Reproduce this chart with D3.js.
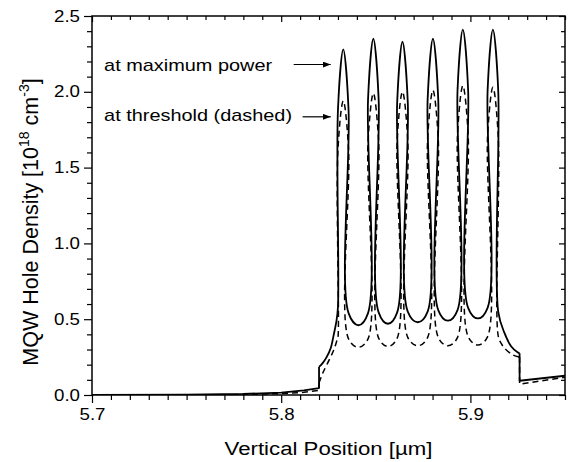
<!DOCTYPE html>
<html>
<head>
<meta charset="utf-8">
<script src="https://cdn.jsdelivr.net/npm/d3@7"></script>
<style>
  body { margin: 0; background: #fff; }
  text { font-family: "Liberation Sans", Arial, sans-serif; fill: #000; }
</style>
</head>
<body>
<div id="chart"></div>
<script>
// ---- data (positions in µm, densities in 1e18 cm^-3) ----
const xDomain = [5.7, 5.95];
const yDomain = [0, 2.5];
const xMajor = [5.7, 5.8, 5.9];
const yMajor = [0, 0.5, 1.0, 1.5, 2.0, 2.5];

// quantum wells: walls, peak position
const wellLeft    = [5.8300, 5.8459, 5.8613, 5.8774, 5.8932, 5.9091];
const wellRight   = [5.8356, 5.8515, 5.8669, 5.8830, 5.8988, 5.9147];
const wellPeakPos = [5.8328, 5.8487, 5.8641, 5.8802, 5.8960, 5.9119];

// at maximum power (solid)
const peakMaxPower        = [2.28, 2.35, 2.33, 2.35, 2.41, 2.41];
const capBaseMaxPower     = [1.88, 1.95, 1.93, 1.95, 2.01, 2.01];
const barrierEdgeMaxPower = [0.54, 0.545, 0.55, 0.56, 0.575];
const barrierMinMaxPower  = [0.46, 0.47, 0.48, 0.49, 0.505];

// at threshold (dashed)
const peakThreshold        = [1.94, 1.99, 2.00, 2.01, 2.04, 2.03];
const capBaseThreshold     = [1.62, 1.67, 1.68, 1.69, 1.72, 1.71];
const barrierEdgeThreshold = [0.37, 0.375, 0.38, 0.38, 0.385];
const barrierMinThreshold  = [0.315, 0.32, 0.325, 0.325, 0.33];

// barrier centres between neighbouring wells
const barrierPos = [5.8408, 5.8564, 5.8722, 5.8881, 5.9040];

// cladding / outer barriers
const leftTailMaxPower  = [[5.70, 0.0], [5.75, 0.002], [5.78, 0.007], [5.80, 0.016], [5.812, 0.030], [5.8200, 0.046], [5.8200, 0.185]];
const leftCladMaxPower  = [[5.8200, 0.185], [5.8219, 0.21], [5.8240, 0.25], [5.8262, 0.31], [5.8278, 0.40], [5.8291, 0.48], [5.8300, 0.58]];
const rightCladMaxPower = [[5.9147, 0.55], [5.9180, 0.41], [5.9216, 0.32], [5.9251, 0.28], [5.9260, 0.275]];
const rightTailMaxPower = [[5.9260, 0.275], [5.9260, 0.094], [5.95, 0.127]];

const leftTailThreshold  = [[5.70, 0.0], [5.75, 0.0], [5.78, 0.003], [5.80, 0.009], [5.812, 0.018], [5.8200, 0.030], [5.8200, 0.08]];
const leftCladThreshold  = [[5.8200, 0.08], [5.8218, 0.14], [5.8253, 0.23], [5.8279, 0.30], [5.8297, 0.37], [5.8300, 0.38]];
const rightCladThreshold = [[5.9147, 0.39], [5.9163, 0.34], [5.9180, 0.31], [5.9225, 0.264], [5.9260, 0.25]];
const rightTailThreshold = [[5.9260, 0.25], [5.9260, 0.072], [5.95, 0.117]];

const annotations = [
  { text: 'at maximum power',      tx: 5.7064, ty: 2.14, ax0: 5.8066, ax1: 5.8262, ay: 2.18 },
  { text: 'at threshold (dashed)', tx: 5.7064, ty: 1.81, ax0: 5.8113, ax1: 5.8262, ay: 1.835 }
];

// ---- layout ----
const W = 568, H = 462;
const margin = { top: 16, right: 3, bottom: 67, left: 92 };
const STRETCH = 1.17; // the scanned figure is wider than tall

const svg = d3.select('#chart').append('svg')
    .attr('width', W)
    .attr('height', H);

const x = d3.scaleLinear(xDomain, [margin.left, W - margin.right]);
const y = d3.scaleLinear(yDomain, [H - margin.bottom, margin.top]);

const defs = svg.append('defs');
defs.append('clipPath').attr('id', 'plot-clip')
  .append('rect')
    .attr('x', margin.left).attr('y', margin.top)
    .attr('width', W - margin.left - margin.right)
    .attr('height', H - margin.top - margin.bottom);

// marker for annotation arrows
defs.append('marker')
    .attr('id', 'arrowhead')
    .attr('viewBox', '0 -3 8 6')
    .attr('refX', 8).attr('refY', 0)
    .attr('markerWidth', 8).attr('markerHeight', 6)
    .attr('markerUnits', 'userSpaceOnUse')
    .attr('orient', 'auto')
  .append('path')
    .attr('d', 'M0,-3L8,0L0,3Z')
    .attr('fill', '#000');

// assemble the well/barrier outline from the read values
function buildCore(leftClad, peaks, capBase, edges, mins, rightClad) {
  const pts = [...leftClad];
  wellLeft.forEach((L, i) => {
    if (i > 0) pts.push([L, edges[i - 1]]);
    pts.push([L, capBase[i]], [wellPeakPos[i], peaks[i]], [wellRight[i], capBase[i]]);
    if (i < wellLeft.length - 1) pts.push([wellRight[i], edges[i]], [barrierPos[i], mins[i]]);
  });
  return pts.concat(rightClad);
}

const coreMax = buildCore(leftCladMaxPower, peakMaxPower, capBaseMaxPower,
                          barrierEdgeMaxPower, barrierMinMaxPower, rightCladMaxPower);
const coreThr = buildCore(leftCladThreshold, peakThreshold, capBaseThreshold,
                          barrierEdgeThreshold, barrierMinThreshold, rightCladThreshold);

const smooth = d3.line().x(d => x(d[0])).y(d => y(d[1])).curve(d3.curveCatmullRom.alpha(0.5));
const straight = d3.line().x(d => x(d[0])).y(d => y(d[1]));

const plot = svg.append('g').attr('clip-path', 'url(#plot-clip)');

const series = [
  { parts: [[leftTailThreshold, straight], [coreThr, smooth], [rightTailThreshold, straight]], dash: '6,4', w: 1.5 },
  { parts: [[leftTailMaxPower, straight], [coreMax, smooth], [rightTailMaxPower, straight]], dash: null, w: 1.8 }
];

series.forEach(s => {
  s.parts.forEach(([pts, gen]) => {
    plot.append('path')
        .attr('d', gen(pts))
        .attr('fill', 'none')
        .attr('stroke', '#000')
        .attr('stroke-width', s.w)
        .attr('stroke-linejoin', 'round')
        .attr('stroke-dasharray', s.dash);
  });
});

// ---- axes ----
const xMinor = d3.range(5.70, 5.9501, 0.01).map(v => +v.toFixed(2)).filter(v => !xMajor.includes(v));
const yMinor = d3.range(0, 2.501, 0.1).map(v => +v.toFixed(1)).filter(v => !yMajor.includes(v));
const fmt = d3.format('.1f');

function styleAxis(g) {
  g.select('.domain').remove();
  g.selectAll('line').attr('stroke', '#000').attr('stroke-width', 1.2);
  g.selectAll('text')
      .style('font-size', '16px')
      .attr('fill', '#000')
      .attr('transform', function() {
        const tx = +this.getAttribute('x') || 0;
        return `translate(${tx},0) scale(${STRETCH},1) translate(${-tx},0)`;
      });
}

const yb = H - margin.bottom, yt = margin.top, xl = margin.left, xr = W - margin.right;

// bottom
svg.append('g').attr('transform', `translate(0,${yb})`)
    .call(d3.axisBottom(x).tickValues(xMajor).tickFormat(fmt).tickSize(8).tickPadding(6))
    .call(styleAxis);
svg.append('g').attr('transform', `translate(0,${yb})`)
    .call(d3.axisBottom(x).tickValues(xMinor).tickFormat('').tickSize(5))
    .call(styleAxis);
// top (inward)
svg.append('g').attr('transform', `translate(0,${yt})`)
    .call(d3.axisBottom(x).tickValues(xMajor).tickFormat('').tickSize(6))
    .call(styleAxis);
svg.append('g').attr('transform', `translate(0,${yt})`)
    .call(d3.axisBottom(x).tickValues(xMinor).tickFormat('').tickSize(4))
    .call(styleAxis);
// left
svg.append('g').attr('transform', `translate(${xl},0)`)
    .call(d3.axisLeft(y).tickValues(yMajor).tickFormat(fmt).tickSize(8).tickPadding(4))
    .call(styleAxis);
svg.append('g').attr('transform', `translate(${xl},0)`)
    .call(d3.axisLeft(y).tickValues(yMinor).tickFormat('').tickSize(5))
    .call(styleAxis);
// right (inward)
svg.append('g').attr('transform', `translate(${xr},0)`)
    .call(d3.axisLeft(y).tickValues(yMajor).tickFormat('').tickSize(6))
    .call(styleAxis);
svg.append('g').attr('transform', `translate(${xr},0)`)
    .call(d3.axisLeft(y).tickValues(yMinor).tickFormat('').tickSize(4))
    .call(styleAxis);

// frame
svg.append('rect')
    .attr('x', xl).attr('y', yt)
    .attr('width', xr - xl).attr('height', yb - yt)
    .attr('fill', 'none')
    .attr('stroke', '#000')
    .attr('stroke-width', 1.5);

// ---- titles ----
svg.append('text')
    .attr('transform', `translate(${(xl + xr) / 2},${H - 7}) scale(${STRETCH},1)`)
    .attr('text-anchor', 'middle')
    .style('font-size', '19px')
    .text('Vertical Position [µm]');

const yTitle = svg.append('text')
    .attr('transform', `translate(38,222) rotate(-90)`)
    .attr('text-anchor', 'middle')
    .style('font-size', '21.5px');
yTitle.append('tspan').text('MQW Hole Density [10');
yTitle.append('tspan').attr('dy', -9).style('font-size', '14px').text('18');
yTitle.append('tspan').attr('dy', 9).text(' cm');
yTitle.append('tspan').attr('dy', -9).style('font-size', '14px').text('-3');
yTitle.append('tspan').attr('dy', 9).text(']');

// ---- annotations ----
const ann = svg.append('g');
ann.selectAll('text')
  .data(annotations)
  .join('text')
    .attr('transform', d => `translate(${x(d.tx)},${y(d.ty)}) scale(${STRETCH},1)`)
    .style('font-size', '17px')
    .text(d => d.text);
ann.selectAll('line')
  .data(annotations)
  .join('line')
    .attr('x1', d => x(d.ax0)).attr('x2', d => x(d.ax1))
    .attr('y1', d => y(d.ay)).attr('y2', d => y(d.ay))
    .attr('stroke', '#000')
    .attr('stroke-width', 1.2)
    .attr('marker-end', 'url(#arrowhead)');
</script>
</body>
</html>
